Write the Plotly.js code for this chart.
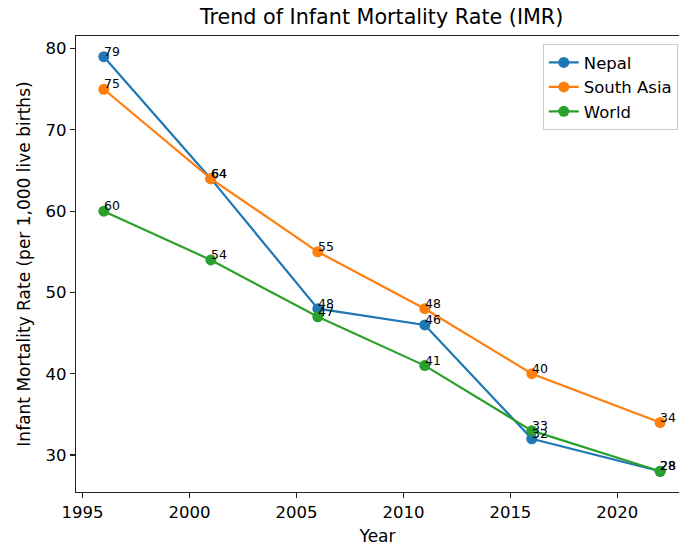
<!DOCTYPE html>
<html>
<head>
<meta charset="utf-8">
<script src="https://cdn.plot.ly/plotly-3.0.1.min.js"></script>
<style>html,body{margin:0;padding:0;background:#fff;}#chart{width:679px;height:547px;}</style>
</head>
<body>
<div id="chart"></div>
<script>
const years = [1996, 2001, 2006, 2011, 2016, 2022];
const seriesNames = ["Nepal", "South Asia", "World"];
const nepal = [79, 64, 48, 46, 32, 28];
const southAsia = [75, 64, 55, 48, 40, 34];
const world = [60, 54, 47, 41, 33, 28];
const colors = ["#1f77b4", "#ff7f0e", "#2ca02c"];
const xTicks = [1995, 2000, 2005, 2010, 2015, 2020];
const yTicks = [30, 40, 50, 60, 70, 80];

const allSeries = [nepal, southAsia, world];
const font = "DejaVu Sans, sans-serif";

const traces = allSeries.map((vals, i) => ({
  x: years, y: vals, name: seriesNames[i], type: "scatter", mode: "lines+markers",
  line: {color: colors[i], width: 2.2},
  marker: {color: colors[i], size: 11}
}));

const annotations = [];
allSeries.forEach((vals) => {
  vals.forEach((v, j) => {
    annotations.push({
      x: years[j], y: v, xref: "x", yref: "y", text: String(v), showarrow: false,
      xanchor: "left", yanchor: "bottom", xshift: -2, yshift: -4,
      font: {family: font, size: 12.5, color: "#000"}
    });
  });
});

const layout = {
  width: 679, height: 547,
  margin: {l: 76, r: 0, t: 36, b: 55},
  paper_bgcolor: "#fff", plot_bgcolor: "#fff",
  font: {family: font, size: 16, color: "#000"},
  title: {text: "Trend of Infant Mortality Rate (IMR)", font: {family: font, size: 20.7}, xref: "container", x: 0.562, xanchor: "center", y: 0.983, yanchor: "top"},
  xaxis: {
    range: [1994.7, 2022.88], tickvals: xTicks, ticktext: xTicks.map(String),
    showgrid: false, zeroline: false, showline: true, mirror: true, linecolor: "#222", linewidth: 1.3,
    ticks: "outside", ticklen: 5, tickwidth: 1.2, tickcolor: "#222",
    tickfont: {size: 16.5},
    title: {text: "Year", font: {size: 17}, standoff: 9}
  },
  yaxis: {
    range: [25.45, 81.55], tickvals: yTicks, ticktext: yTicks.map(String),
    showgrid: false, zeroline: false, showline: true, mirror: false, linecolor: "#222", linewidth: 1.3,
    ticks: "outside", ticklen: 5, tickwidth: 1.2, tickcolor: "#222",
    tickfont: {size: 16.5},
    title: {text: "Infant Mortality Rate (per 1,000 live births)", font: {size: 17}, standoff: 10}
  },
  legend: {
    x: 0.998, xanchor: "right", y: 0.982, yanchor: "top",
    bgcolor: "rgba(255,255,255,0.8)", bordercolor: "#cccccc", borderwidth: 1,
    font: {family: font, size: 16.5}
  },
  showlegend: true,
  annotations: annotations
};

Plotly.newPlot("chart", traces, layout, {displayModeBar: false, staticPlot: true});
</script>
</body>
</html>
